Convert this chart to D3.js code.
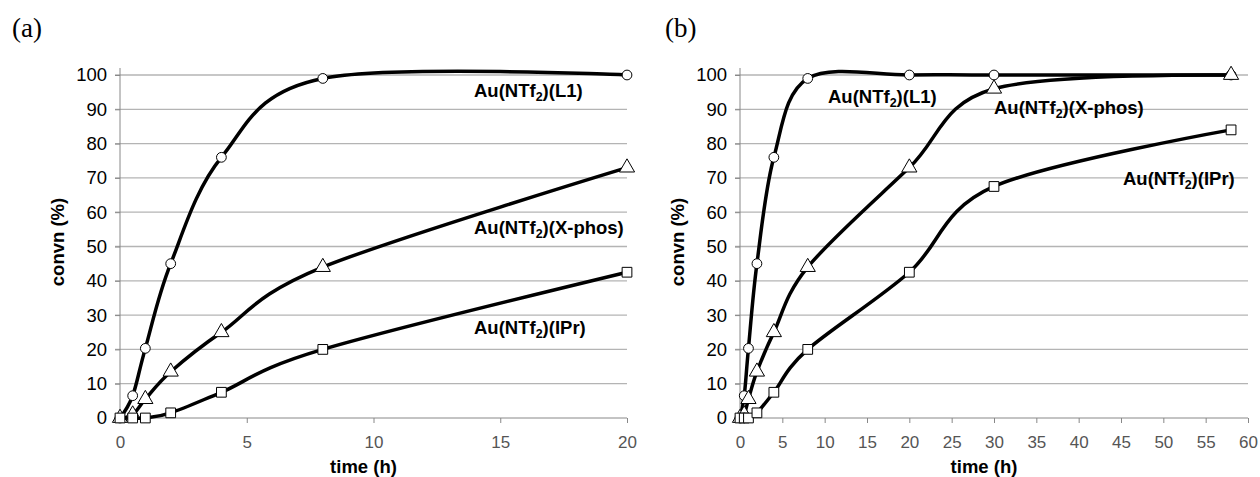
<!DOCTYPE html>
<html>
<head>
<meta charset="utf-8">
<script src="https://cdn.jsdelivr.net/npm/d3@7"></script>
<style>
  body { margin: 0; background: #fff; }
  svg { display: block; }
</style>
</head>
<body>
<div id="chart"></div>
<script>
// data
const timeA = [0, 0.5, 1, 2, 4, 8, 20];
const l1A = [0, 6.5, 20.3, 45, 76, 99, 100];
const xphosA = [0, 1, 5.5, 13.5, 25, 44, 73];
const iprA = [0, 0, 0, 1.5, 7.5, 20, 42.5];

const timeB = [0, 0.5, 1, 2, 4, 8, 20, 30, 58];
const l1B = [0, 6.5, 20.3, 45, 76, 99, 100, 100, 100];
const xphosB = [0, 1, 5.5, 13.5, 25, 44, 73, 96, 100];
const iprB = [0, 0, 0, 1.5, 7.5, 20, 42.5, 67.5, 84];

const yTicks = [0, 10, 20, 30, 40, 50, 60, 70, 80, 90, 100];
const xTicksA = [0, 5, 10, 15, 20];
const xTicksB = [0, 5, 10, 15, 20, 25, 30, 35, 40, 45, 50, 55, 60];

const seriesNames = ["L1", "X-phos", "IPr"];

const svg = d3.select("#chart").append("svg")
  .attr("width", 1260)
  .attr("height", 477);

function drawPanel(p) {
  const x = d3.scaleLinear().domain(p.xDomain).range([p.left, p.right]);
  const y = d3.scaleLinear().domain([0, 100]).range([418, 75]);
  const g = svg.append("g");

  // gridlines
  g.append("g")
    .attr("stroke", "#b4b4b4")
    .attr("stroke-width", 1.3)
    .selectAll("line")
    .data(yTicks.filter(d => d > 0))
    .join("line")
    .attr("x1", p.left - 5)
    .attr("x2", p.right)
    .attr("y1", d => y(d))
    .attr("y2", d => y(d));

  // axes
  const yAxis = g.append("g")
    .attr("transform", `translate(${p.left},0)`)
    .call(d3.axisLeft(y).tickValues(yTicks).tickSize(5).tickPadding(8));
  yAxis.select(".domain").attr("d", `M0,68V${y(0)}`).attr("stroke", "#888");
  yAxis.selectAll(".tick line").attr("stroke", "#888");
  yAxis.selectAll("text")
    .attr("font-family", "'Liberation Sans', Arial, sans-serif")
    .attr("font-size", 18.5)
    .attr("fill", "#000");

  const xAxis = g.append("g")
    .attr("transform", `translate(0,${y(0)})`)
    .call(d3.axisBottom(x).tickValues(p.xTicks).tickSize(5).tickPadding(13));
  xAxis.select(".domain").attr("d", `M${p.left},0H${p.right}`).attr("stroke", "#888");
  xAxis.selectAll(".tick line").attr("stroke", "#888");
  xAxis.selectAll("text")
    .attr("font-family", "'Liberation Sans', Arial, sans-serif")
    .attr("font-size", 17)
    .attr("fill", "#555");

  // axis titles
  g.append("text")
    .attr("x", (p.left + p.right) / 2 - 10)
    .attr("y", 473)
    .attr("text-anchor", "middle")
    .attr("font-family", "'Liberation Sans', Arial, sans-serif")
    .attr("font-weight", "bold")
    .attr("font-size", 18.5)
    .text("time (h)");

  g.append("text")
    .attr("transform", `translate(${p.left - 56},242) rotate(-90)`)
    .attr("text-anchor", "middle")
    .attr("font-family", "'Liberation Sans', Arial, sans-serif")
    .attr("font-weight", "bold")
    .attr("font-size", 18.5)
    .text("convn (%)");

  // panel letter
  g.append("text")
    .attr("x", p.letterX)
    .attr("y", 37)
    .attr("font-family", "'Liberation Serif', 'Times New Roman', serif")
    .attr("font-size", 27)
    .text(p.letter);

  const line = d3.line()
    .x(d => x(d[0]))
    .y(d => y(d[1]))
    .curve(d3.curveCardinal.tension(0));

  const shapes = [d3.symbolCircle, d3.symbolTriangle, d3.symbolSquare];
  const sizes = [75, 100, 95];

  p.series.forEach((vals, i) => {
    const pts = p.time.map((t, k) => [t, vals[k]]);
    g.append("path")
      .datum(pts)
      .attr("fill", "none")
      .attr("stroke", "#000")
      .attr("stroke-width", 3.5)
      .attr("d", line);

    g.append("g")
      .selectAll("path")
      .data(pts)
      .join("path")
      .attr("transform", d => `translate(${x(d[0])},${y(d[1])})`)
      .attr("d", d3.symbol().type(shapes[i]).size(sizes[i]))
      .attr("fill", "#fff")
      .attr("stroke", "#000")
      .attr("stroke-width", 1);
  });

  // series labels
  p.labels.forEach((lb, i) => {
    const t = g.append("text")
      .attr("x", lb[0])
      .attr("y", lb[1])
      .attr("font-family", "'Liberation Sans', Arial, sans-serif")
      .attr("font-weight", "bold")
      .attr("font-size", 18.5);
    t.append("tspan").text("Au(NTf");
    t.append("tspan").attr("font-size", 12.5).attr("dy", 4).text("2");
    t.append("tspan").attr("dy", -4).text(")(" + seriesNames[i] + ")");
  });
}

drawPanel({
  letter: "(a)", letterX: 12,
  left: 120, right: 627,
  xDomain: [0, 20], xTicks: xTicksA,
  time: timeA,
  series: [l1A, xphosA, iprA],
  labels: [[474, 97], [474, 234], [474, 334]]
});

drawPanel({
  letter: "(b)", letterX: 665,
  left: 740, right: 1248,
  xDomain: [0, 60], xTicks: xTicksB,
  time: timeB,
  series: [l1B, xphosB, iprB],
  labels: [[828, 103], [994, 114], [1123, 185]]
});
</script>
</body>
</html>
